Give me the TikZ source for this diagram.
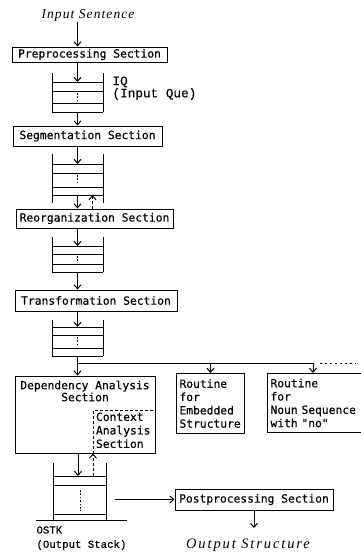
\documentclass[tikz,border=0pt]{standalone}
\usepackage{fontspec}
\usetikzlibrary{arrows.meta}
\newfontfamily\boxfont[FakeBold=0.4]{DejaVu Sans Mono}
\newfontfamily\labfont[FakeBold=0.4]{Liberation Mono}
\newfontfamily\handA[LetterSpace=8]{Liberation Serif}
\newfontfamily\handB[LetterSpace=13]{Liberation Serif}
\begin{document}
\begin{tikzpicture}[x=1pt,y=-1pt,line width=1pt,
  arr/.style={-{Straight Barb[length=4pt,width=7pt]}},
  box/.style={draw, inner sep=0pt, font=\boxfont\fontsize{11.3}{13}\selectfont},
  rbox/.style={draw, anchor=north west, inner xsep=3pt, inner ysep=0pt, align=left,
    font=\boxfont\fontsize{11.3}{13.3}\selectfont},
  btxt/.style={inner sep=0pt, font=\boxfont\fontsize{11.3}{12}\selectfont},
  ctxt/.style={inner sep=1.5pt, anchor=north west, align=left, font=\boxfont\fontsize{11.3}{13.5}\selectfont},
  iqlab/.style={inner sep=0pt, anchor=west, font=\labfont\fontsize{12.7}{14}\selectfont},
  oslab/.style={inner sep=0pt, anchor=west, font=\labfont\fontsize{10.7}{13}\selectfont},
  handa/.style={inner sep=1pt, font=\handA\itshape\fontsize{13.5}{15}\selectfont},
  handb/.style={inner sep=1pt, font=\handB\itshape\fontsize{14.5}{16}\selectfont},
  qdot/.style={dash pattern=on 1.6pt off 1.8pt},
  dsh/.style={dash pattern=on 3pt off 2pt}]
\useasboundingbox (0,0) rectangle (361,554);
\clip (0,0) rectangle (361,554);
\coordinate (ax) at (77.5,0);

% input
\node[handa] (insent) at (88,15) {Input Sentence};

% boxes
\node[box, minimum width=155pt, minimum height=15pt] (pre) at (89.5,54.5) {Preprocessing Section};
\node[box, minimum width=149pt, minimum height=20pt] (seg) at (87.5,136) {Segmentation Section};
\node[box, minimum width=157pt, minimum height=19pt] (reorg) at (94.5,218.5) {Reorganization Section};
\node[box, minimum width=162pt, minimum height=21pt] (trans) at (96,300.5) {Transformation Section};
\node[box, minimum width=140pt, minimum height=77pt] (dep) at (85,414.5) {};
\node[btxt, align=center] (deptxt) at (85,391) {Dependency Analysis\\Section};
\node[ctxt] (ctx) at (94,410.5) {Context\\Analysis\\Section};
\node[rbox, minimum width=68pt, minimum height=60pt, text width=62pt] (emb) at (176,373) {Routine\\for\\Embedded\\Structure};
\node[rbox, minimum width=106pt, minimum height=59pt, text width=100pt] (noun) at (267,373) {Routine\\for\\Noun Sequence\\with "no"};
\node[box, minimum width=158pt, minimum height=21pt] (post) at (254,499.5) {Postprocessing Section};
\node[handb] (outs) at (248,545) {Output Structure};

% labels
\node[iqlab] (iq1) at (112,82) {IQ};
\node[iqlab] (iq2) at (112,94) {(Input Que)};
\node[oslab] (os1) at (36,530) {OSTK};
\node[oslab] (os2) at (36,545) {(Output Stack)};

% queue 1
\draw (52,73) -- (52,112) (103,73) -- (103,112);
\draw (52,82) -- (103,82) (52,91) -- (103,91) (52,103) -- (103,103) (52,112) -- (103,112);
\draw[qdot] (77.5,93) -- (77.5,101);
\coordinate (q1in) at (77.5,82);
\coordinate (q1out) at (77.5,112);
% queue 2
\draw (52,154) -- (52,203) (103,154) -- (103,203);
\draw (52,164) -- (103,164) (52,173) -- (103,173) (52,187) -- (103,187) (52,195) -- (103,195);
\draw[qdot] (77.5,175) -- (77.5,185);
\coordinate (q2in) at (77.5,164);
\coordinate (q2out) at (77.5,195);
\coordinate (q2back) at (92.5,195);
% queue 3
\draw (52,237) -- (52,272) (103,237) -- (103,272);
\draw (52,246) -- (103,246) (52,254) -- (103,254) (52,264) -- (103,264) (52,272) -- (103,272);
\draw[qdot] (77.5,256) -- (77.5,262);
\coordinate (q3in) at (77.5,246);
\coordinate (q3out) at (77.5,272);
% queue 4
\draw (52,320) -- (52,356) (103,320) -- (103,356);
\draw (52,327) -- (103,327) (52,335) -- (103,335) (52,348) -- (103,348) (52,356) -- (103,356);
\draw[qdot] (77.5,337) -- (77.5,346);
\coordinate (q4in) at (77.5,327);
\coordinate (q4out) at (77.5,356);
% OSTK
\draw (53,463) -- (53,520) (106,463) -- (106,520);
\draw (53,476) -- (106,476) (53,485) -- (106,485) (53,514) -- (106,514) (36,520) -- (127,520);
\draw[qdot] (80,490) -- (80,511);
\coordinate (osin) at (78,476);
\coordinate (osback) at (93,476);
\coordinate (osout) at (115,499.5);

% context dashed border
\coordinate (ctxc) at (93,410);
\draw[dsh] (ctxc |- dep.south) -- (ctxc) -- (ctxc -| dep.east);

% main flow
\draw[arr] (insent.south -| ax) -- (pre.north -| ax);
\draw[arr] (pre.south -| ax) -- (q1in);
\draw[arr] (q1out) -- (seg.north -| ax);
\draw[arr] (seg.south -| ax) -- (q2in);
\draw[arr] (q2out) -- (reorg.north -| ax);
\draw[arr,dsh] (reorg.north -| q2back) -- (q2back);
\draw[arr] (reorg.south -| ax) -- (q3in);
\draw[arr] (q3out) -- (trans.north -| ax);
\draw[arr] (trans.south -| ax) -- (q4in);
\draw[arr] (q4out) -- (dep.north -| ax);
% branch
\coordinate (br) at (77.5,363);
\coordinate (bre) at (313,363);
\coordinate (brd0) at (320,363);
\coordinate (brd1) at (356,363);
\draw (br) -- (bre);
\draw[dash pattern=on 2pt off 3pt] (brd0) -- (brd1);
\draw[arr] (br -| emb.north) -- (emb.north);
\draw[arr] (bre) -- (bre |- noun.north);
% dep to ostk
\draw[arr] (dep.south -| osin) -- (osin);
\draw[arr,dsh] (osback) -- (dep.south -| osback);
\draw[arr] (osout) -- (post.west);
\coordinate (outarr) at (254,528);
\draw[arr] (post.south -| outarr) -- (outarr);
\end{tikzpicture}
\end{document}
